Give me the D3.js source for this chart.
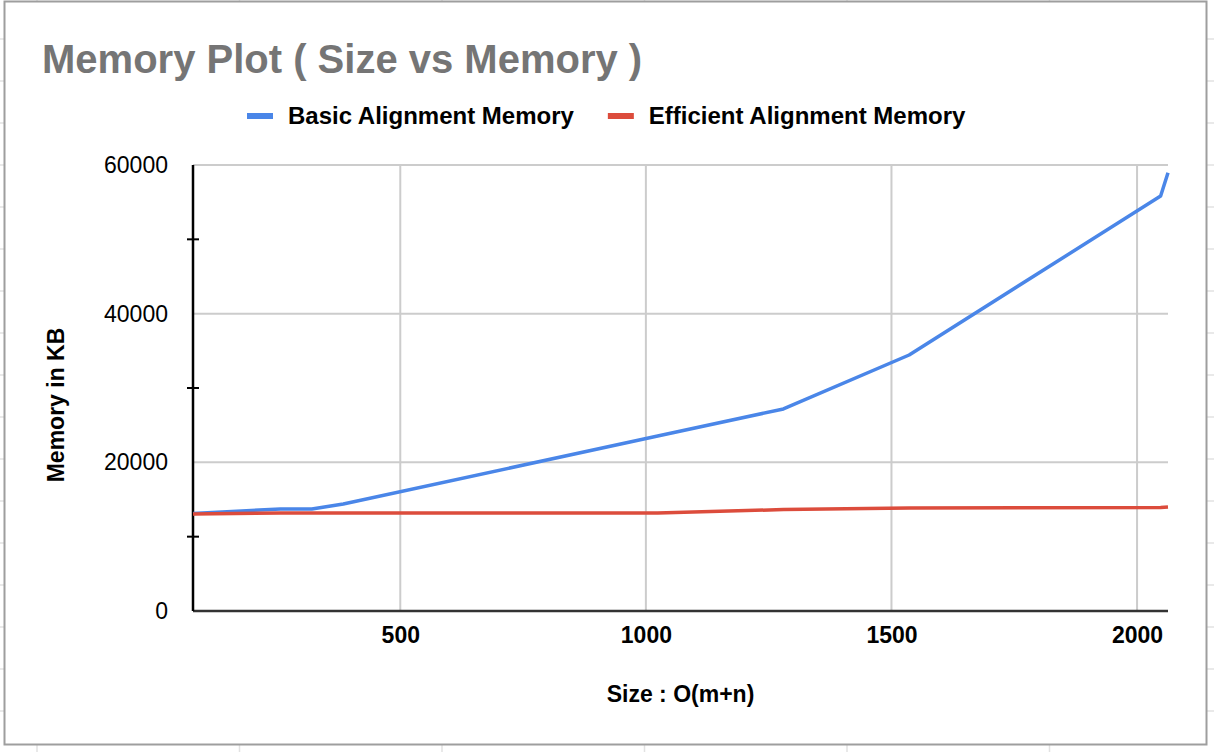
<!DOCTYPE html>
<html>
<head>
<meta charset="utf-8">
<script src="https://cdn.jsdelivr.net/npm/d3@7"></script>
<style>
  html, body { margin: 0; padding: 0; background: #fff; }
  svg { display: block; }
  text { font-family: "Liberation Sans", Arial, Helvetica, sans-serif; }
</style>
</head>
<body>
<svg id="chart" width="1214" height="752"></svg>
<script>
// ---- data ----
const sizes = [78, 256, 320, 384, 1024, 1280, 1536, 2048, 2063];
const basicMemory = [13120, 13720, 13720, 14390, 23540, 27180, 34440, 55830, 58970];
const efficientSizes = [78, 256, 384, 1024, 1280, 1536, 2048, 2063];
const efficientMemory = [13050, 13180, 13180, 13180, 13650, 13860, 13920, 13990];
const seriesNames = ["Basic Alignment Memory", "Efficient Alignment Memory"];
const yTicks = [0, 20000, 40000, 60000];
const yMinorTicks = [10000, 30000, 50000];
const xTicks = [500, 1000, 1500, 2000];
const titleText = "Memory Plot ( Size vs Memory )";
const xTitle = "Size : O(m+n)";
const yTitle = "Memory in KB";

const colors = ["#4a86e8", "#dc4c3c"];
const svg = d3.select("#chart");
const W = 1214, H = 752;

// spreadsheet background lines outside frame
const rowLines = d3.range(39, H, 42);
const colLines = d3.range(37, W, 202.5);
svg.append("g").selectAll("line.r").data(rowLines).join("line")
  .attr("x1", 0).attr("x2", W).attr("y1", d => d).attr("y2", d => d)
  .attr("stroke", "#e2e2e2").attr("stroke-width", 1.5);
svg.append("g").selectAll("line.c").data(colLines).join("line")
  .attr("x1", d => d).attr("x2", d => d).attr("y1", 0).attr("y2", H)
  .attr("stroke", "#e2e2e2").attr("stroke-width", 1.5);

// frame
svg.append("rect").attr("x", 4.5).attr("y", 1.5).attr("width", 1202).attr("height", 743)
  .attr("fill", "#fff").attr("stroke", "#9e9e9e").attr("stroke-width", 2);

const L = 193, R = 1168, T = 165, B = 611;
const allX = sizes.concat(efficientSizes);
const x = d3.scaleLinear().domain([d3.min(allX), d3.max(allX)]).range([L, R]);
const y = d3.scaleLinear().domain([0, 60000]).range([B, T]);

// gridlines
svg.append("g").selectAll("line").data(yTicks.filter(d => d > 0)).join("line")
  .attr("x1", L).attr("x2", R).attr("y1", d => y(d)).attr("y2", d => y(d))
  .attr("stroke", "#cccccc").attr("stroke-width", 2);
svg.append("g").selectAll("line").data(xTicks).join("line")
  .attr("x1", d => x(d)).attr("x2", d => x(d)).attr("y1", T).attr("y2", B)
  .attr("stroke", "#cccccc").attr("stroke-width", 2);

// x axis
const xAxis = d3.axisBottom(x).tickValues(xTicks).tickSize(0).tickPadding(16).tickFormat(d3.format("d"));
const gx = svg.append("g").attr("transform", `translate(0,${B})`).call(xAxis);
gx.select(".domain").attr("stroke", "#333").attr("stroke-width", 2.5).attr("d", `M${L},0H${R}`);
gx.selectAll("text").attr("font-size", 23).attr("font-weight", "bold").attr("fill", "#000")
  .attr("font-family", "'Liberation Sans', Arial, sans-serif");

// y axis
const yAxis = d3.axisLeft(y).tickValues(yTicks).tickSize(0).tickPadding(25).tickFormat(d3.format("d"));
const gy = svg.append("g").attr("transform", `translate(${L},0)`).call(yAxis);
gy.select(".domain").attr("stroke", "#000").attr("stroke-width", 2.5).attr("d", `M0,${T}V${B}`);
gy.selectAll("text").attr("font-size", 23).attr("fill", "#000")
  .attr("font-family", "'Liberation Sans', Arial, sans-serif");
svg.append("g").selectAll("line").data(yMinorTicks).join("line")
  .attr("x1", L - 6).attr("x2", L + 6).attr("y1", d => y(d)).attr("y2", d => y(d))
  .attr("stroke", "#000").attr("stroke-width", 2);

// lines
const line = d3.line().x(d => x(d[0])).y(d => y(d[1]));
const basicPts = sizes.map((s, i) => [s, basicMemory[i]]);
const effPts = efficientSizes.map((s, i) => [s, efficientMemory[i]]);
svg.append("path").datum(basicPts).attr("d", line).attr("fill", "none")
  .attr("stroke", colors[0]).attr("stroke-width", 3.5).attr("stroke-linejoin", "round");
svg.append("path").datum(effPts).attr("d", line).attr("fill", "none")
  .attr("stroke", colors[1]).attr("stroke-width", 3.5).attr("stroke-linejoin", "round");

// title
svg.append("text").attr("x", 42).attr("y", 73).text(titleText)
  .attr("font-size", 40).attr("font-weight", "bold").attr("fill", "#757575");

// legend
const lg = svg.append("g");
let lx = 247;
seriesNames.forEach((name, i) => {
  lg.append("rect").attr("x", lx).attr("y", 113).attr("width", 26).attr("height", 6).attr("fill", colors[i]);
  const t = lg.append("text").attr("x", lx + 41).attr("y", 124).text(name)
    .attr("font-size", 24).attr("font-weight", "bold").attr("fill", "#000");
  lx = lx + 41 + t.node().getComputedTextLength() + 34;
});

// axis titles
svg.append("text").attr("x", (L + R) / 2).attr("y", 702).attr("text-anchor", "middle")
  .text(xTitle).attr("font-size", 23).attr("font-weight", "bold").attr("fill", "#000");
svg.append("text").attr("transform", `translate(64,${405}) rotate(-90)`).attr("text-anchor", "middle")
  .text(yTitle).attr("font-size", 23).attr("font-weight", "bold").attr("fill", "#000");
</script>
</body>
</html>
